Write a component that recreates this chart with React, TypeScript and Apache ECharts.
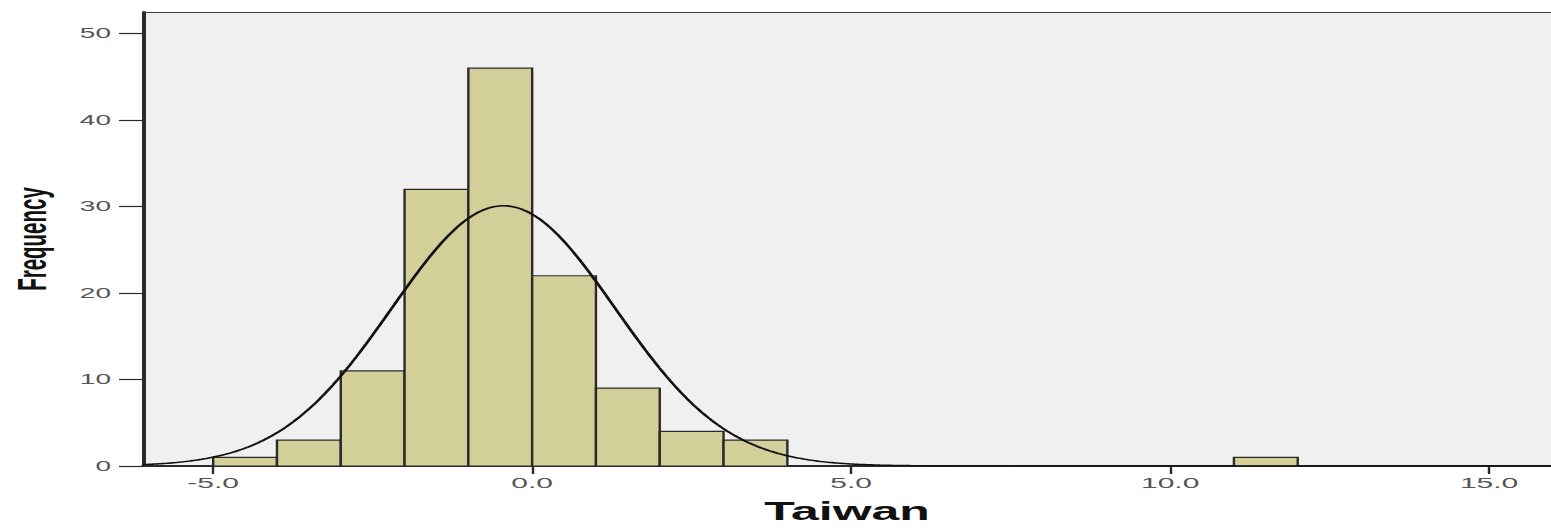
import React, { useEffect, useRef } from "react";
import * as echarts from "echarts";

// Histogram bins (width 1) and frequencies
const binStarts = [-5, -4, -3, -2, -1, 0, 1, 2, 3, 11];
const binWidth = 1;
const counts = [1, 3, 11, 32, 46, 22, 9, 4, 3, 1];

// Fitted normal curve parameters (estimated)
const MEAN = -0.45;
const SD = 1.75;

const xTicks = [-5, 0, 5, 10, 15];
const yTicks = [0, 10, 20, 30, 40, 50];

const X_MIN = -6.1;
const X_MAX = 15.97;
const Y_MAX = 52.5;

const STRETCH = 2; // reference image is stretched horizontally
const W = 1551;
const H = 530;

export default function App() {
  const ref = useRef<HTMLDivElement>(null);

  useEffect(() => {
    if (!ref.current) return;
    const chart = echarts.init(ref.current, null, {
      renderer: "svg",
      width: W / STRETCH,
      height: H,
    });

    const N = counts.reduce((a, b) => a + b, 0);
    const barData = binStarts.map((s, i) => [s, s + binWidth, counts[i]]);
    const curve: number[][] = [];
    const steps = 600;
    for (let i = 0; i <= steps; i++) {
      const x = X_MIN + ((X_MAX - X_MIN) * i) / steps;
      const z = (x - MEAN) / SD;
      const y = (N * binWidth * Math.exp(-0.5 * z * z)) / (SD * Math.sqrt(2 * Math.PI));
      curve.push([x, y]);
    }

    const font = "'Liberation Sans', Arial, sans-serif";

    chart.setOption({
      animation: false,
      backgroundColor: "#ffffff",
      grid: {
        left: 71.5,
        right: 0,
        top: 12,
        bottom: 64,
        containLabel: false,
        outerBoundsMode: "none",
        show: true,
        backgroundColor: "#f0f0f0",
        borderWidth: 0,
      },
      xAxis: [
        {
          type: "value",
          min: X_MIN,
          max: X_MAX,
          name: "Taiwan",
          nameLocation: "middle",
          nameGap: 33,
          nameTextStyle: {
            fontFamily: font,
            fontWeight: "bold",
            fontSize: 25,
            color: "#111",
          },
          axisLine: { show: true, onZero: false, lineStyle: { color: "#2a2a2a", width: 2 } },
          axisTick: {
            show: true,
            length: 8,
            customValues: xTicks,
            lineStyle: { color: "#2a2a2a", width: 1.2 },
          },
          axisLabel: {
            customValues: xTicks,
            margin: 9,
            fontFamily: font,
            fontSize: 15,
            color: "#555",
            formatter: (v: number) => v.toFixed(1),
          },
          splitLine: { show: false },
        },
        {
          type: "value",
          position: "top",
          min: X_MIN,
          max: X_MAX,
          axisLine: { show: true, onZero: false, lineStyle: { color: "#444", width: 1 } },
          axisTick: { show: false },
          axisLabel: { show: false },
          splitLine: { show: false },
        },
      ],
      yAxis: {
        type: "value",
        position: "left",
        min: 0,
        max: Y_MAX,
        name: "Frequency",
        nameLocation: "middle",
        nameGap: 45,
        nameTextStyle: {
          fontFamily: font,
          fontWeight: "bold",
          fontSize: 20.5,
          color: "#111",
        },
        axisLine: { show: true, onZero: false, lineStyle: { color: "#2a2a2a", width: 2 } },
        axisTick: {
          show: true,
          length: 12,
          customValues: yTicks,
          lineStyle: { color: "#2a2a2a", width: 1.2 },
        },
        axisLabel: {
          customValues: yTicks,
          margin: 16,
          fontFamily: font,
          fontSize: 14,
          color: "#555",
        },
        splitLine: { show: false },
      },
      series: [
        {
          type: "custom",
          xAxisIndex: 0,
          encode: { x: [0, 1], y: 2 },
          data: barData,
          z: 2,
          renderItem: (params: any, api: any) => {
            const p0 = api.coord([api.value(0), 0]);
            const p1 = api.coord([api.value(1), api.value(2)]);
            return {
              type: "rect",
              shape: {
                x: p0[0],
                y: p1[1],
                width: p1[0] - p0[0],
                height: p0[1] - p1[1],
              },
              style: { fill: "#d3cf98", stroke: "#2a2a2a", lineWidth: 1.2 },
            };
          },
        },
        {
          type: "line",
          xAxisIndex: 0,
          data: curve,
          showSymbol: false,
          symbol: "none",
          smooth: false,
          z: 3,
          lineStyle: { color: "#111", width: 1.6 },
          clip: true,
        },
      ],
    });

    return () => chart.dispose();
  }, []);

  return (
    <div
      style={{
        position: "fixed",
        left: 0,
        top: 0,
        width: W,
        height: H,
        overflow: "hidden",
        background: "#fff",
      }}
    >
      <div
        ref={ref}
        style={{
          width: W / STRETCH,
          height: H,
          transform: `scaleX(${STRETCH})`,
          transformOrigin: "0 0",
        }}
      />
    </div>
  );
}
